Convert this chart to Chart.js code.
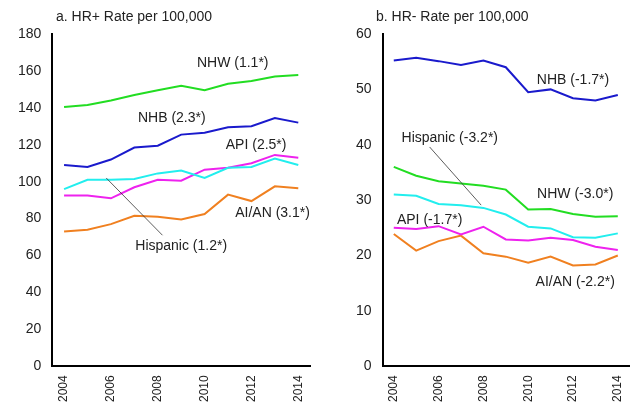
<!DOCTYPE html>
<html><head><meta charset="utf-8">
<script src="https://cdn.jsdelivr.net/npm/chart.js@4"></script>
<style>
body{margin:0;background:#fff;font-family:"Liberation Sans",Arial,sans-serif;}
.wrap{position:absolute;top:0;height:409px;}
.t{position:absolute;top:8px;font-size:14px;color:#222;}
</style></head><body>
<div class="wrap" style="left:0;width:318px"><div class="t" style="left:56px">a. HR+ Rate per 100,000</div><canvas id="a"></canvas></div>
<div class="wrap" style="left:318px;width:319px"><div class="t" style="left:58px">b. HR- Rate per 100,000</div><canvas id="b"></canvas></div>
<script>
const years = ['2004','2005','2006','2007','2008','2009','2010','2011','2012','2013','2014'];
const colors = { NHW: '#22dd22', NHB: '#1a1acc', API: '#ee22ee', Hispanic: '#22eeee', AIAN: '#f08020' };

// panel a: HR+
const posNHW = [140.5, 141.5, 144, 147, 149.5, 152, 149.5, 153, 154.5, 157, 157.8];
const posNHB = [109, 108, 112, 118.5, 119.5, 125.5, 126.5, 129.5, 130, 134.5, 132];
const posAPI = [92.5, 92.5, 91, 97, 101, 100.5, 106.5, 107.5, 110, 114.5, 113];
const posHisp = [96, 101, 101, 101.5, 104.5, 106, 102, 107.5, 108, 112.5, 109];
const posAIAN = [73, 74, 77, 81.5, 81, 79.5, 82.5, 93, 89.5, 97.5, 96.5];

// panel b: HR-
const negNHB = [55.2, 55.7, 55.1, 54.4, 55.2, 54, 49.5, 50, 48.4, 48, 49];
const negNHW = [36, 34.4, 33.4, 33, 32.6, 31.9, 28.3, 28.4, 27.5, 27, 27.1];
const negHisp = [31, 30.8, 29.3, 29.1, 28.6, 27.4, 25.2, 24.9, 23.3, 23.2, 24];
const negAPI = [25, 24.8, 25.3, 23.8, 25.2, 22.9, 22.7, 23.2, 22.8, 21.6, 21];
const negAIAN = [23.9, 20.9, 22.6, 23.6, 20.4, 19.8, 18.7, 19.8, 18.2, 18.4, 20];

const posLabels = [
  { text: 'NHW (1.1*)', x: 7.2, y: 164 },
  { text: 'NHB (2.3*)', x: 4.6, y: 134.5 },
  { text: 'API (2.5*)', x: 8.2, y: 120 },
  { text: 'AI/AN (3.1*)', x: 8.9, y: 83 },
  { text: 'Hispanic (1.2*)', x: 5.0, y: 65, line: [1.8, 102, 4.2, 71] }
];
const negLabels = [
  { text: 'NHB (-1.7*)', x: 8.0, y: 51.7 },
  { text: 'Hispanic (-3.2*)', x: 2.5, y: 41.2, line: [1.6, 39.6, 3.9, 29.1] },
  { text: 'NHW (-3.0*)', x: 8.1, y: 31 },
  { text: 'API (-1.7*)', x: 1.6, y: 26.4 },
  { text: 'AI/AN (-2.2*)', x: 8.1, y: 15.2 }
];

const labelPlugin = {
  id: 'labels',
  afterDatasetsDraw(chart, args, opts) {
    const ctx = chart.ctx, xs = chart.scales.x, ys = chart.scales.y;
    ctx.save();
    ctx.font = '14px "Liberation Sans", Arial, sans-serif';
    ctx.fillStyle = '#222';
    ctx.textAlign = 'center';
    ctx.textBaseline = 'middle';
    opts.items.forEach(l => {
      ctx.fillText(l.text, xs.getPixelForValue(l.x), ys.getPixelForValue(l.y));
      if (l.line) {
        ctx.strokeStyle = '#333'; ctx.lineWidth = 0.8;
        ctx.beginPath();
        ctx.moveTo(xs.getPixelForValue(l.line[0]), ys.getPixelForValue(l.line[1]));
        ctx.lineTo(xs.getPixelForValue(l.line[2]), ys.getPixelForValue(l.line[3]));
        ctx.stroke();
      }
    });
    ctx.restore();
  }
};

function ds(data, c) {
  return { data, borderColor: c, borderWidth: 2, pointRadius: 0, fill: false, tension: 0 };
}

function make(id, sets, max, step, items, padLeft) {
  new Chart(document.getElementById(id), {
    type: 'line',
    data: { labels: years, datasets: sets },
    plugins: [labelPlugin],
    options: {
      responsive: true, maintainAspectRatio: false, animation: false,
      layout: { padding: { top: 34, right: 8, left: padLeft, bottom: 4 } },
      plugins: { legend: { display: false }, tooltip: { enabled: false }, labels: { items } },
      scales: {
        x: {
          offset: true,
          grid: { display: false, drawTicks: true, tickLength: 6, color: '#000' },
          border: { color: '#000', width: 2 },
          ticks: { color: '#222', font: { size: 12, family: '"Liberation Sans", Arial' }, maxRotation: 90, minRotation: 90,
            callback: (v, i) => i % 2 === 0 ? years[i] : '' }
        },
        y: {
          min: 0, max: max,
          grid: { display: false, drawTicks: true, tickLength: 8, color: '#000' },
          border: { color: '#000', width: 2 },
          ticks: { stepSize: step, color: '#222', font: { size: 14, family: '"Liberation Sans", Arial' } }
        }
      }
    }
  });
}

make('a', [ds(posNHW, colors.NHW), ds(posNHB, colors.NHB), ds(posHisp, colors.Hispanic), ds(posAPI, colors.API), ds(posAIAN, colors.AIAN)], 180, 20, posLabels, 15);
make('b', [ds(negNHB, colors.NHB), ds(negNHW, colors.NHW), ds(negHisp, colors.Hispanic), ds(negAPI, colors.API), ds(negAIAN, colors.AIAN)], 60, 10, negLabels, 35);
</script>
</body></html>
